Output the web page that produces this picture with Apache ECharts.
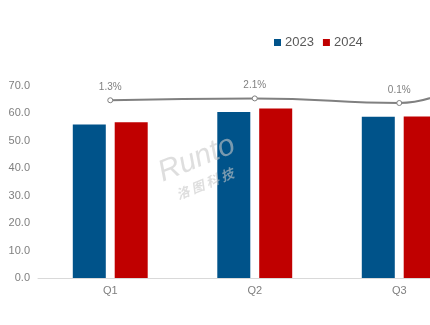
<!DOCTYPE html>
<html>
<head>
<meta charset="utf-8">
<script src="https://cdn.jsdelivr.net/npm/echarts@6/dist/echarts.min.js"></script>
<style>
  html, body { margin: 0; padding: 0; background: #fff; }
  #chart { width: 430px; height: 325px; }
</style>
</head>
<body>
<div id="chart"></div>
<script>
// Quarterly shipments (2023 vs 2024) with year-over-year growth
const quarters = ['Q1', 'Q2', 'Q3', 'Q4'];
const seriesNames = ['2023', '2024'];
const values2023 = [56.0, 60.5, 58.8, 60.0];
const values2024 = [56.8, 61.8, 58.9, 66.0];
const growthPct = [1.3, 2.1, 0.1, 45.0];
const yTicks = [0, 10, 20, 30, 40, 50, 60, 70];

const chart = echarts.init(document.getElementById('chart'), null, { renderer: 'canvas' });

const axisText = { color: '#7f7f7f', fontSize: 11, fontFamily: 'Liberation Sans, Arial, sans-serif' };

chart.setOption({
  animation: false,
  backgroundColor: '#ffffff',
  legend: {
    data: seriesNames,
    left: 269,
    top: 31,
    itemWidth: 7,
    itemHeight: 7,
    itemGap: 9,
    icon: 'rect',
    textStyle: { color: '#595959', fontSize: 13, fontFamily: 'Liberation Sans, Arial, sans-serif', padding: [0, 0, 0, -1] }
  },
  // the plot runs past the right edge of the canvas, so the Q4 group sits outside the view
  grid: { left: 38, top: 86, width: 578, height: 192, containLabel: false, outerBoundsMode: 'none' },
  xAxis: {
    type: 'category',
    data: quarters,
    axisLine: { show: true, lineStyle: { color: '#d9d9d9', width: 1 } },
    axisTick: { show: false },
    axisLabel: Object.assign({ margin: 7 }, axisText)
  },
  yAxis: [
    {
      type: 'value',
      min: yTicks[0],
      max: yTicks[yTicks.length - 1],
      interval: 10,
      axisLine: { show: false },
      axisTick: { show: false },
      splitLine: { show: false },
      axisLabel: Object.assign({ margin: 8, formatter: v => v.toFixed(1) }, axisText)
    },
    {
      type: 'value',
      min: -76,
      max: 7.5,
      show: false,
      splitLine: { show: false }
    }
  ],
  series: [
    {
      name: seriesNames[0],
      type: 'bar',
      data: values2023,
      barWidth: 33,
      barGap: '27%',
      itemStyle: { color: '#00538a' }
    },
    {
      name: seriesNames[1],
      type: 'bar',
      data: values2024,
      barWidth: 33,
      itemStyle: { color: '#c00000' }
    },
    {
      name: 'growth',
      type: 'line',
      yAxisIndex: 1,
      data: growthPct,
      smooth: 0.5,
      symbol: 'circle',
      symbolSize: 5,
      lineStyle: { color: '#808080', width: 2 },
      itemStyle: { color: '#ffffff', borderColor: '#808080', borderWidth: 1 },
      label: {
        show: true,
        position: 'top',
        distance: 5,
        formatter: p => p.value.toFixed(1) + '%',
        color: '#7f7f7f',
        fontSize: 10,
        fontFamily: 'Liberation Sans, Arial, sans-serif'
      },
      z: 5
    }
  ],
  graphic: [
    {
      type: 'group',
      x: 202,
      y: 172,
      rotation: 22 * Math.PI / 180,
      z: 100,
      children: [
        {
          type: 'text',
          x: -40,
          y: -14,
          z: 100,
          style: {
            text: 'Runto',
            fontSize: 30,
            fontStyle: 'italic',
            fontFamily: 'Liberation Sans, Arial, sans-serif',
            fill: 'rgba(200,200,200,0.6)',
            textVerticalAlign: 'middle'
          }
        },
        {
          type: 'text',
          x: -32,
          y: 12,
          z: 100,
          style: {
            text: '洛 图 科 技',
            fontSize: 13,
            fontWeight: 'bold',
            fontStyle: 'italic',
            fontFamily: 'Noto Sans CJK SC, sans-serif',
            fill: 'rgba(200,200,200,0.6)',
            textVerticalAlign: 'middle'
          }
        }
      ]
    }
  ]
});
</script>
</body>
</html>
